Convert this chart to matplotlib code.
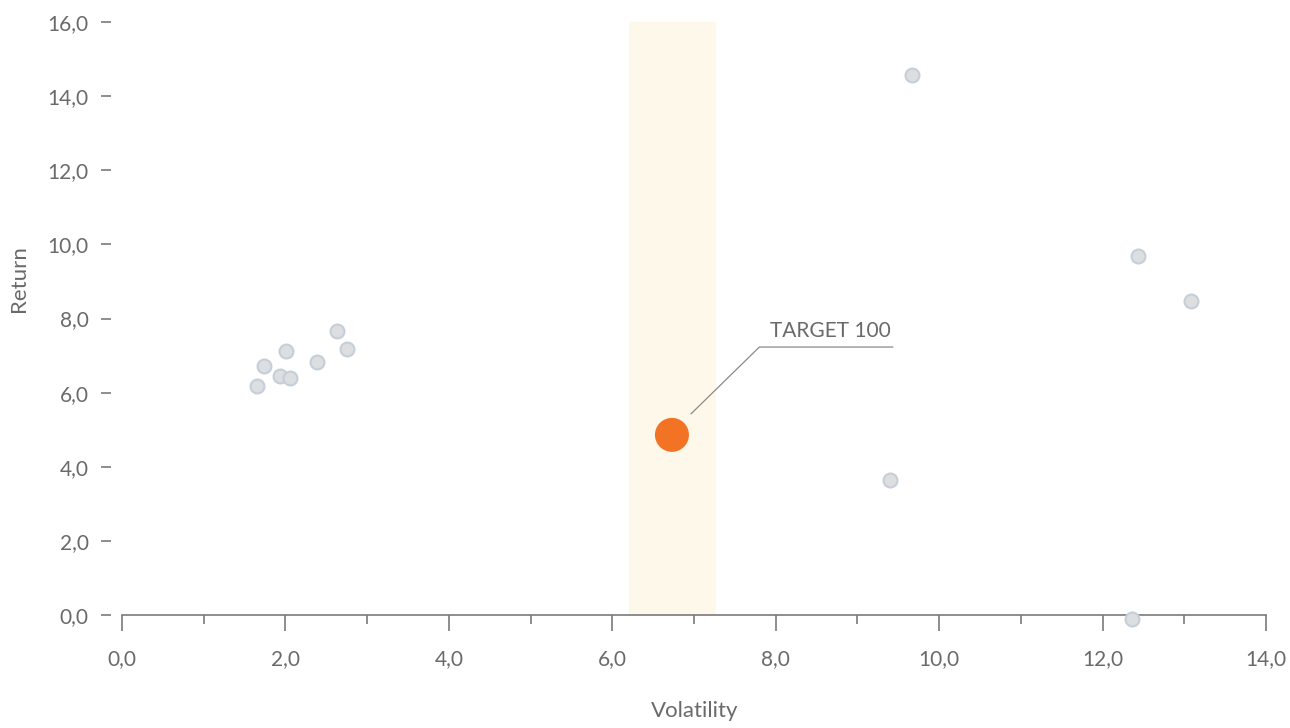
import matplotlib
matplotlib.use("Agg")
import matplotlib.pyplot as plt
from matplotlib.ticker import MultipleLocator, FuncFormatter

# Peer funds: volatility vs return
peer_volatility = [1.65, 1.74, 1.93, 2.01, 2.06, 2.39, 2.63, 2.75,
                   9.67, 9.40, 12.43, 13.08, 12.36]
peer_return = [6.18, 6.72, 6.45, 7.12, 6.40, 6.83, 7.66, 7.18,
               14.57, 3.64, 9.69, 8.47, -0.10]

# Highlighted fund
target_label = "TARGET 100"
target_volatility = 6.73
target_return = 4.86

# Target volatility corridor
band_low = 6.20
band_high = 7.27

plt.rcParams["font.family"] = ["Lato", "DejaVu Sans"]

fig = plt.figure(figsize=(12.9, 7.28), dpi=100)
ax = fig.add_axes([122 / 1290, 1 - 615 / 728, (1266 - 122) / 1290, (615 - 22) / 728])

text_color = "#6a6a6a"
axis_color = "#7a7a7a"

ax.axvspan(band_low, band_high, color="#fef8ea", zorder=0, lw=0)

ax.scatter(peer_volatility, peer_return, s=100, facecolor="#dcdee0",
           edgecolor="#c4cfd9", linewidth=1.5, zorder=3, clip_on=False)
ax.scatter([target_volatility], [target_return], s=600, facecolor="#f37325",
           edgecolor="none", zorder=4)

# Leader line from the highlighted fund to its label
ax.plot([6.96, 7.80, 9.44], [5.42, 7.23, 7.23], color="#8a8a8a", lw=0.9,
        zorder=2, solid_capstyle="butt")
ax.text(7.93, 7.40, target_label, fontsize=15, color=text_color,
        ha="left", va="bottom")

ax.set_xlim(0, 14)
ax.set_ylim(0, 16)

fmt = FuncFormatter(lambda v, _: f"{v:.1f}".replace(".", ","))
ax.xaxis.set_major_locator(MultipleLocator(2))
ax.xaxis.set_minor_locator(MultipleLocator(1))
ax.yaxis.set_major_locator(MultipleLocator(2))
ax.xaxis.set_major_formatter(fmt)
ax.yaxis.set_major_formatter(fmt)

for side in ("top", "right", "left"):
    ax.spines[side].set_visible(False)
ax.spines["left"].set_position(("outward", 8))
ax.spines["bottom"].set_color(axis_color)
ax.spines["bottom"].set_linewidth(1.2)

ax.tick_params(axis="x", which="major", direction="out", length=11.5, width=1.2,
               color=axis_color, labelsize=15, labelcolor=text_color, pad=13)
ax.tick_params(axis="x", which="minor", direction="out", length=6.5, width=1.2,
               color=axis_color)
ax.tick_params(axis="y", which="major", direction="out", length=7, width=1.2,
               color=axis_color, labelsize=15, labelcolor=text_color, pad=9)

ax.set_xlabel("Volatility", fontsize=16, color=text_color)
ax.set_ylabel("Return", fontsize=16, color=text_color)
ax.xaxis.set_label_coords((695 - 122) / 1144, -(711 - 615) / 593)
ax.xaxis.label.set_va("center")
ax.yaxis.set_label_coords((19 - 122) / 1144, (615 - 279) / 593)
ax.yaxis.label.set_va("center")

fig.savefig("out.png", dpi=100)
